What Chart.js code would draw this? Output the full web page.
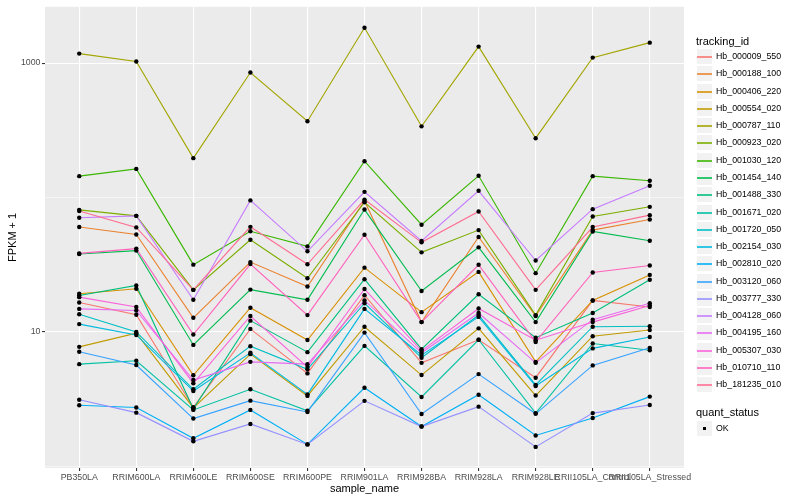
<!DOCTYPE html>
<html>
<head>
<meta charset="utf-8">
<script src="https://cdn.jsdelivr.net/npm/chart.js@4"></script>
<style>
    body { margin: 0; background: #fff; }
    #wrap { position: relative; width: 800px; height: 500px; font-family: "Liberation Sans", Arial, sans-serif; }
    #chart { position: absolute; left: 0; top: 0; }
    .lg-title { position: absolute; left: 696px; font-size: 11px; line-height: 13px; color: #000; white-space: nowrap; }
    .lg-key { position: absolute; left: 696px; width: 17px; height: 17px; background: #F2F2F2; box-sizing: border-box; border: 1px solid #fff; }
    .lg-line { position: absolute; left: 0; right: 0; top: 6.5px; height: 2px; opacity: 0.8; }
    .lg-dot { position: absolute; left: 6px; top: 6px; width: 3px; height: 3px; background: #000; }
    .lg-label { position: absolute; left: 716px; font-size: 8.8px; line-height: 17px; color: #000; white-space: nowrap; }
</style>
</head>
<body>
<div id="wrap">
    <canvas id="chart" width="800" height="500"></canvas>
    <div id="legend"></div>
</div>
<script>
// Samples on the x axis
const categories = ['PB350LA', 'RRIM600LA', 'RRIM600LE', 'RRIM600SE', 'RRIM600PE', 'RRIM901LA',
    'RRIM928BA', 'RRIM928LA', 'RRIM928LE', 'RRII105LA_Control', 'RRII105LA_Stressed'];

// FPKM + 1 per tracking id (one value per sample)
const hb_000009_550 = [16.5, 13.4, 2.74, 10.5, 4.90, 18.7, 5.87, 8.72, 4.55, 17.1, 15.3];
const hb_000188_100 = [60.2, 53.0, 12.7, 33.0, 21.7, 94.2, 11.8, 50.7, 13.1, 57.1, 68.5];
const hb_000406_220 = [19.2, 20.9, 4.74, 15.1, 8.68, 30.0, 14.0, 27.9, 5.97, 17.1, 26.5];
const hb_000554_020 = [7.72, 9.75, 2.71, 6.81, 3.33, 10.9, 4.76, 10.6, 3.35, 9.26, 10.3];
const hb_000787_110 = [1176, 1026, 196, 850, 369, 1832, 338, 1326, 276, 1098, 1419];
const hb_000923_020 = [80.8, 72.9, 20.5, 48.4, 25.0, 92.1, 39.0, 57.1, 13.3, 72.1, 85.1];
const hb_001030_120 = [144, 163, 31.6, 56.0, 43.2, 186, 62.6, 145, 27.3, 144, 133];
const hb_001454_140 = [37.9, 40.2, 7.98, 20.6, 17.3, 81.2, 20.1, 42.5, 11.8, 55.8, 47.6];
const hb_001488_330 = [18.6, 22.1, 2.67, 12.1, 7.05, 24.6, 7.42, 19.0, 9.03, 13.8, 24.4];
const hb_001671_020 = [5.74, 6.08, 2.62, 3.73, 2.58, 7.85, 3.27, 8.72, 2.48, 8.18, 7.29];
const hb_001720_050 = [13.5, 9.97, 3.73, 7.81, 5.25, 16.3, 6.40, 13.3, 4.02, 10.9, 11.0];
const hb_002154_030 = [11.4, 9.47, 3.62, 6.97, 3.42, 14.8, 6.70, 12.9, 3.95, 7.52, 9.15];
const hb_002810_020 = [2.84, 2.73, 1.61, 2.62, 1.45, 3.83, 1.97, 3.40, 1.69, 2.28, 3.29];
const hb_003120_060 = [7.09, 5.65, 2.26, 3.07, 2.53, 9.86, 2.44, 4.84, 2.45, 5.62, 7.59];
const hb_003777_330 = [3.12, 2.50, 1.53, 2.06, 1.45, 3.06, 1.97, 2.77, 1.39, 2.48, 2.85];
const hb_004128_060 = [70.5, 72.9, 17.3, 95.0, 39.7, 110, 47.4, 112, 33.9, 81.8, 122];
const hb_004195_160 = [14.8, 14.4, 4.37, 5.97, 5.74, 17.1, 6.97, 13.8, 5.87, 12.3, 16.3];
const hb_005307_030 = [18.1, 15.3, 4.13, 13.1, 5.46, 20.8, 7.21, 14.9, 8.65, 11.8, 15.7];
const hb_010710_110 = [38.3, 41.6, 9.53, 31.9, 13.3, 52.7, 11.8, 31.5, 8.40, 27.6, 31.1];
const hb_181235_010 = [79.1, 59.8, 20.5, 60.4, 31.8, 96.3, 46.3, 78.5, 20.5, 60.2, 73.8];

const trackingIds = ['Hb_000009_550', 'Hb_000188_100', 'Hb_000406_220', 'Hb_000554_020', 'Hb_000787_110',
    'Hb_000923_020', 'Hb_001030_120', 'Hb_001454_140', 'Hb_001488_330', 'Hb_001671_020',
    'Hb_001720_050', 'Hb_002154_030', 'Hb_002810_020', 'Hb_003120_060', 'Hb_003777_330',
    'Hb_004128_060', 'Hb_004195_160', 'Hb_005307_030', 'Hb_010710_110', 'Hb_181235_010'];
const seriesValues = [hb_000009_550, hb_000188_100, hb_000406_220, hb_000554_020, hb_000787_110,
    hb_000923_020, hb_001030_120, hb_001454_140, hb_001488_330, hb_001671_020,
    hb_001720_050, hb_002154_030, hb_002810_020, hb_003120_060, hb_003777_330,
    hb_004128_060, hb_004195_160, hb_005307_030, hb_010710_110, hb_181235_010];

// y axis: labelled ticks and minor grid
const yTickLabels = [10, 1000];
const yGridValues = [1, 10, 100, 1000];

// ggplot hue palette for 20 groups
const colors = ['#F8766D', '#EA8331', '#D89000', '#C09B00', '#A3A500', '#7CAE00', '#39B600', '#00BB4E',
    '#00BF7D', '#00C1A3', '#00BFC4', '#00BAE0', '#00B0F6', '#35A2FF', '#9590FF', '#C77CFF',
    '#E76BF3', '#FA62DB', '#FF62BC', '#FF6C91'];

Chart.defaults.font.family = '"Liberation Sans", Arial, sans-serif';

// grey panel behind the grid
const panelBackground = {
    id: 'panelBackground',
    beforeDraw(chart) {
        const { ctx, chartArea } = chart;
        ctx.save();
        ctx.fillStyle = '#EBEBEB';
        ctx.fillRect(chartArea.left, chartArea.top, chartArea.right - chartArea.left, chartArea.bottom - chartArea.top);
        ctx.restore();
    }
};

const lineSets = seriesValues.map((values, i) => ({
    label: trackingIds[i],
    data: values.map((v, j) => ({ x: j, y: v })),
    borderColor: colors[i],
    borderWidth: 1.1,
    pointRadius: 0,
    tension: 0,
    order: -i
}));

const pointSet = {
    label: 'OK',
    data: seriesValues.flatMap(values => values.map((v, j) => ({ x: j, y: v }))),
    showLine: false,
    pointRadius: 2.2,
    pointBackgroundColor: '#000',
    pointBorderWidth: 0,
    order: -100
};

new Chart(document.getElementById('chart'), {
    type: 'line',
    data: { datasets: [...lineSets, pointSet] },
    options: {
        responsive: false,
        animation: false,
        events: [],
        layout: { padding: { top: 5, right: 116, left: 0, bottom: 0 } },
        plugins: { legend: { display: false }, tooltip: { enabled: false } },
        scales: {
            x: {
                type: 'linear',
                min: -0.6,
                max: categories.length - 0.4,
                afterBuildTicks: (scale) => {
                    scale.ticks = categories.map((c, i) => ({ value: i }));
                },
                afterFit: (scale) => { scale.height = 32; },
                grid: { color: '#FFFFFF', lineWidth: 1.1, tickColor: '#333333', tickLength: 3 },
                border: { display: false },
                ticks: {
                    autoSkip: false,
                    maxRotation: 0,
                    minRotation: 0,
                    padding: 1,
                    color: '#4D4D4D',
                    font: { size: 8.8 },
                    callback: (v) => categories[v]
                },
                title: { display: true, text: 'sample_name', color: '#000', font: { size: 11 }, padding: { top: 0, bottom: 4 } }
            },
            y: {
                type: 'logarithmic',
                min: 0.968,
                max: 2624,
                afterBuildTicks: (scale) => {
                    scale.ticks = yGridValues.map(v => ({ value: v }));
                },
                afterFit: (scale) => { scale.width = 45; },
                grid: {
                    color: '#FFFFFF',
                    lineWidth: (ctx) => yTickLabels.includes(ctx.tick && ctx.tick.value) ? 1.1 : 0.55,
                    tickColor: (ctx) => yTickLabels.includes(ctx.tick && ctx.tick.value) ? '#333333' : 'rgba(0,0,0,0)',
                    tickLength: 3
                },
                border: { display: false },
                ticks: {
                    padding: 1.5,
                    color: '#4D4D4D',
                    font: { size: 8.8 },
                    callback: (v) => yTickLabels.includes(v) ? String(v) : ''
                },
                title: { display: true, text: 'FPKM + 1', color: '#000', font: { size: 11 }, padding: { top: 6, bottom: 0 } }
            }
        }
    },
    plugins: [panelBackground]
});

// ggplot style legends on the right
function buildLegend() {
    const legend = document.getElementById('legend');
    const keyH = 17.28;
    const first = 48;

    const title = document.createElement('div');
    title.className = 'lg-title';
    title.style.top = '35px';
    title.textContent = 'tracking_id';
    legend.appendChild(title);

    trackingIds.forEach((id, i) => {
        const top = Math.round(first + i * keyH);
        const key = document.createElement('div');
        key.className = 'lg-key';
        key.style.top = top + 'px';
        const line = document.createElement('div');
        line.className = 'lg-line';
        line.style.backgroundColor = colors[i];
        key.appendChild(line);
        legend.appendChild(key);

        const label = document.createElement('div');
        label.className = 'lg-label';
        label.style.top = top + 'px';
        label.textContent = id;
        legend.appendChild(label);
    });

    const title2 = document.createElement('div');
    title2.className = 'lg-title';
    title2.style.top = '406px';
    title2.textContent = 'quant_status';
    legend.appendChild(title2);

    const key = document.createElement('div');
    key.className = 'lg-key';
    key.style.top = '420px';
    const dot = document.createElement('div');
    dot.className = 'lg-dot';
    key.appendChild(dot);
    legend.appendChild(key);

    const label = document.createElement('div');
    label.className = 'lg-label';
    label.style.top = '420px';
    label.textContent = 'OK';
    legend.appendChild(label);
}

buildLegend();
</script>
</body>
</html>
